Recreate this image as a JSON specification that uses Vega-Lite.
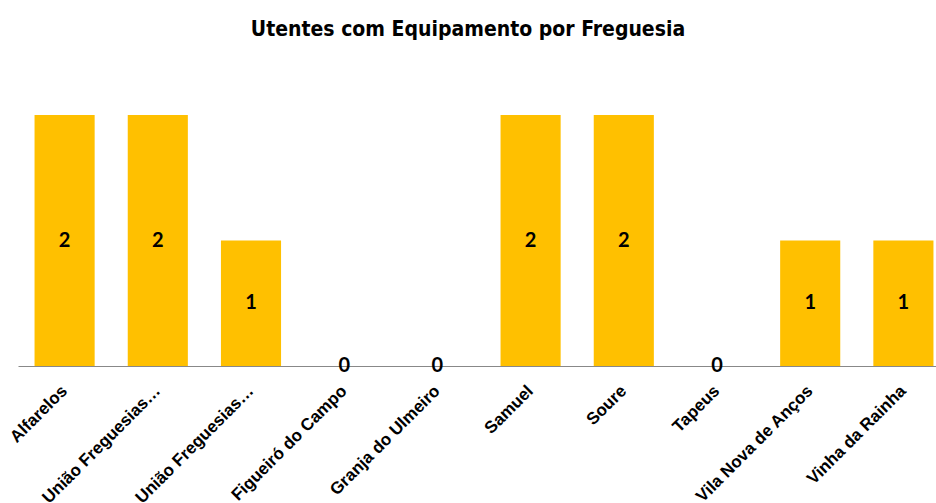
{
  "$schema": "https://vega.github.io/schema/vega-lite/v6.json",
  "autosize": "none",
  "width": 932,
  "height": 251,
  "padding": {"left": 18, "top": 115, "right": 0, "bottom": 137},
  "background": "white",
  "title": {
    "text": "Utentes com Equipamento por Freguesia",
    "font": "Liberation Sans Narrow, DejaVu Sans Condensed, sans-serif",
    "fontSize": 21,
    "fontWeight": "bold",
    "color": "black",
    "anchor": "middle",
    "dx": -16,
    "offset": 75
  },
  "data": {
    "values": [
      {"freguesia": "Alfarelos", "utentes": 2},
      {"freguesia": "União Freguesias… ", "utentes": 2},
      {"freguesia": "União Freguesias…", "utentes": 1},
      {"freguesia": "Figueiró do Campo", "utentes": 0},
      {"freguesia": "Granja do Ulmeiro", "utentes": 0},
      {"freguesia": "Samuel", "utentes": 2},
      {"freguesia": "Soure", "utentes": 2},
      {"freguesia": "Tapeus", "utentes": 0},
      {"freguesia": "Vila Nova de Anços", "utentes": 1},
      {"freguesia": "Vinha da Rainha", "utentes": 1}
    ]
  },
  "encoding": {
    "x": {
      "field": "freguesia",
      "type": "nominal",
      "sort": null,
      "scale": {"paddingInner": 0.355, "paddingOuter": 0.1775},
      "axis": {
        "title": null,
        "labelAngle": -45,
        "labelAlign": "right",
        "labelBaseline": "middle",
        "labelFont": "Liberation Sans, Arial, sans-serif",
        "labelFontWeight": "bold",
        "labelFontSize": 17,
        "labelColor": "black",
        "labelPadding": 22,
        "ticks": false,
        "domainColor": "#888888",
        "domainWidth": 1,
        "labelLimit": 300,
        "labelOverlap": false
      }
    }
  },
  "layer": [
    {
      "mark": {"type": "bar", "color": "#FFC000"},
      "encoding": {
        "y": {
          "field": "utentes",
          "type": "quantitative",
          "scale": {"domain": [0, 2], "nice": false},
          "axis": null
        }
      }
    },
    {
      "mark": {
        "type": "text",
        "font": "Lato, Carlito, sans-serif",
        "fontWeight": "bold",
        "fontSize": 20,
        "color": "black",
        "baseline": "middle",
        "align": "center"
      },
      "encoding": {
        "y": {
          "field": "utentes",
          "type": "quantitative",
          "scale": {"domain": [0, 4], "nice": false},
          "axis": null
        },
        "text": {"field": "utentes", "type": "quantitative"}
      }
    }
  ],
  "resolve": {"scale": {"y": "independent"}},
  "config": {"view": {"stroke": null}}
}
